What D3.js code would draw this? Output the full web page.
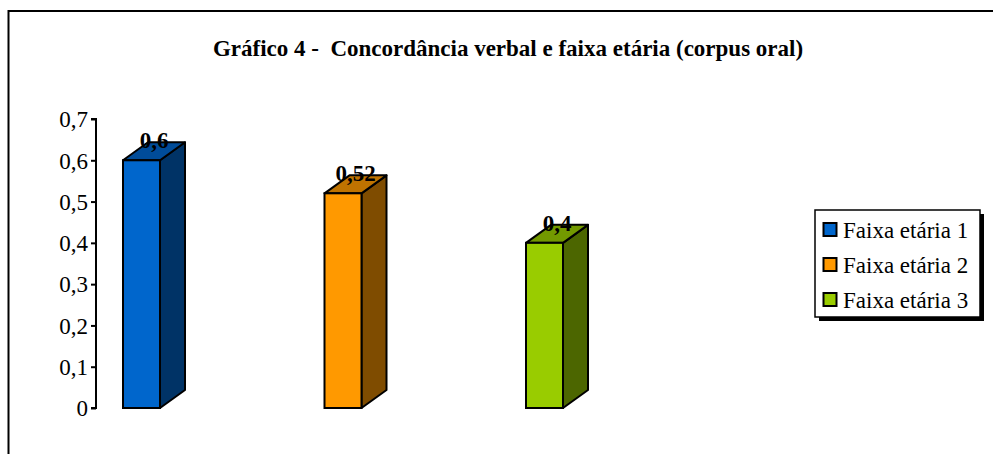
<!DOCTYPE html>
<html><head><meta charset="utf-8">
<script src="https://cdn.jsdelivr.net/npm/d3@7"></script>
<style>body{margin:0;background:#fff}svg{display:block}</style>
</head><body>
<script>
const title = "Gráfico 4 -  Concordância verbal e faixa etária (corpus oral)";
const series = ["Faixa etária 1", "Faixa etária 2", "Faixa etária 3"];
const values = [0.6, 0.52, 0.4];
const valueLabels = ["0,6", "0,52", "0,4"];
const yTicks = [0, 0.1, 0.2, 0.3, 0.4, 0.5, 0.6, 0.7];
const frontColors = ["#0066CC", "#FF9900", "#99CC00"];
const topColors = ["#004C99", "#BF7300", "#739900"];
const sideColors = ["#003366", "#7F4C00", "#4C6600"];

const W = 993, H = 454;
const svg = d3.select("body").append("svg").attr("width", W).attr("height", H);
const font = "'Liberation Serif', 'Times New Roman', serif";

// outer frame
svg.append("rect").attr("x", 8.5).attr("y", 11).attr("width", W + 20).attr("height", H + 20)
  .attr("fill", "#fff").attr("stroke", "#000").attr("stroke-width", 2);

// title
svg.append("text").attr("x", 508).attr("y", 56).attr("text-anchor", "middle")
  .attr("font-family", font).attr("font-weight", "bold").attr("font-size", 23)
  .style("white-space", "pre").text(title);

const y = d3.scaleLinear().domain([0, 0.7]).range([408, 119]);
const x = d3.scalePoint().domain(series).range([141.5, 544.5]);
const bw = 37, dx = 25, dy = 18;

// axis
const axis = d3.axisLeft(y).tickValues(yTicks).tickSize(5).tickPadding(3)
  .tickFormat(d => d3.format(".1f")(d).replace(".", ",").replace(/^0,0$/, "0"));
const ag = svg.append("g").attr("transform", "translate(96,0)").call(axis);
ag.select(".domain").attr("stroke-width", 2).attr("d", `M-5,${y(0.7)}H0V${y(0)}H-5`);
ag.selectAll(".tick line").attr("stroke-width", 2);
ag.selectAll(".tick text").attr("font-family", font).attr("font-size", 23).attr("fill", "#000").attr("dy", "0.34em");

// bars
const g = svg.append("g");
series.forEach((s, i) => {
  const x0 = x(s) - bw / 2, x1 = x0 + bw, yt = y(values[i]), yb = y(0);
  g.append("path").attr("d", `M${x1},${yt}L${x1 + dx},${yt - dy}L${x1 + dx},${yb - dy}L${x1},${yb}Z`)
    .attr("fill", sideColors[i]).attr("stroke", "#000").attr("stroke-width", 2).attr("stroke-linejoin", "round");
  g.append("path").attr("d", `M${x0},${yt}L${x0 + dx},${yt - dy}L${x1 + dx},${yt - dy}L${x1},${yt}Z`)
    .attr("fill", topColors[i]).attr("stroke", "#000").attr("stroke-width", 2).attr("stroke-linejoin", "round");
  g.append("rect").attr("x", x0).attr("y", yt).attr("width", bw).attr("height", yb - yt)
    .attr("fill", frontColors[i]).attr("stroke", "#000").attr("stroke-width", 2);
  g.append("text").attr("x", x(s) + dx / 2).attr("y", yt - 12).attr("text-anchor", "middle")
    .attr("font-family", font).attr("font-weight", "bold").attr("font-size", 23).text(valueLabels[i]);
});

// legend
const lg = svg.append("g");
lg.append("rect").attr("x", 819).attr("y", 214).attr("width", 165).attr("height", 107).attr("fill", "#000");
lg.append("rect").attr("x", 815).attr("y", 210).attr("width", 165).attr("height", 107)
  .attr("fill", "#fff").attr("stroke", "#000").attr("stroke-width", 1.5);
series.forEach((s, i) => {
  const cy = 230 + i * 35;
  lg.append("rect").attr("x", 823.5).attr("y", cy - 7).attr("width", 13).attr("height", 13)
    .attr("fill", frontColors[i]).attr("stroke", "#000").attr("stroke-width", 2);
  lg.append("text").attr("x", 843).attr("y", cy + 8).attr("font-family", font).attr("font-size", 23).text(s);
});
</script>
</body></html>
